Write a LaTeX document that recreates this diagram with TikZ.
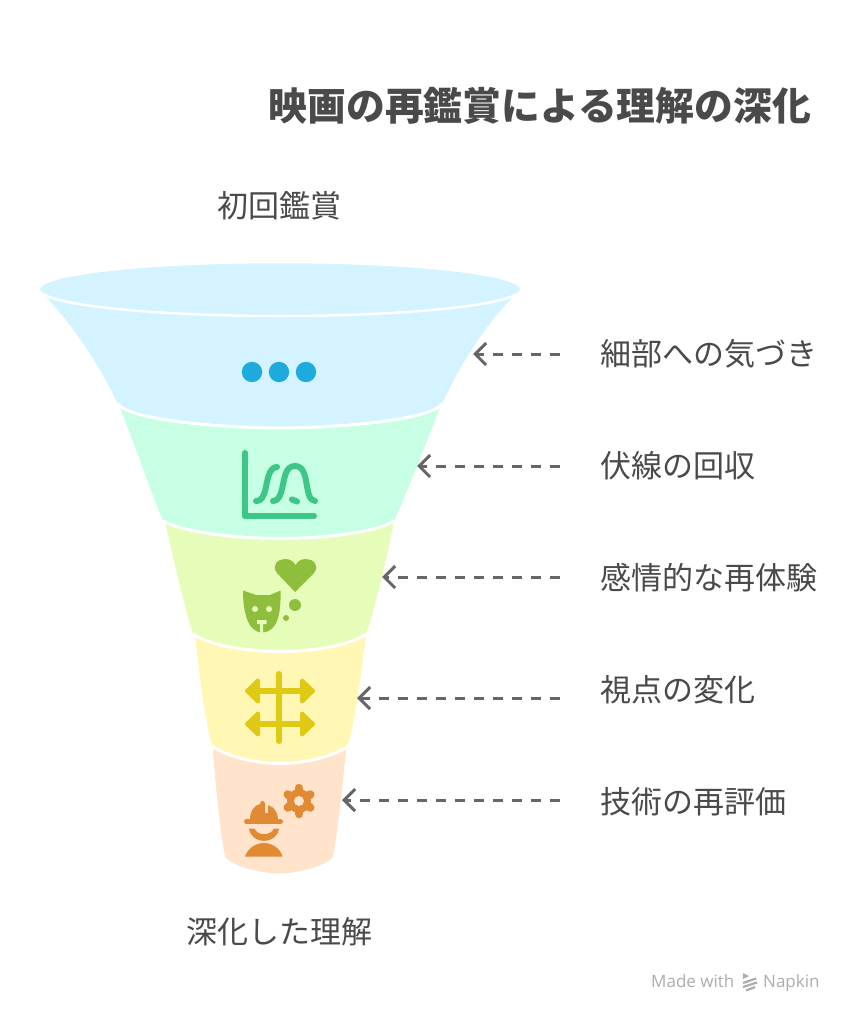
\documentclass[tikz,border=0pt]{standalone}
\usepackage{fontspec}
\setmainfont{Noto Sans CJK JP}
\newfontfamily\latinfont{Open Sans}
\usetikzlibrary{arrows.meta}
\definecolor{cblue}{HTML}{D2F3FF}
\definecolor{cgreen}{HTML}{C6FFE4}
\definecolor{clime}{HTML}{E5FDB9}
\definecolor{cyellow}{HTML}{FFF7B3}
\definecolor{corange}{HTML}{FFE3CB}
\definecolor{iblue}{HTML}{1FAADD}
\definecolor{igreen}{HTML}{3EC688}
\definecolor{ilime}{HTML}{8FBE3C}
\definecolor{iyellow}{HTML}{E0C914}
\definecolor{iorange}{HTML}{E08A33}
\definecolor{txt}{HTML}{4A4A4A}
\tikzset{
  seg/.style={fill=#1,draw=none},
  rim/.style={draw=white,line width=3pt,line cap=round},
  lbl/.style={font=\fontsize{31}{36}\selectfont,text=txt,inner sep=0pt,anchor=west},
  ttl/.style={font=\fontsize{38.8}{44}\selectfont\bfseries,text=txt,inner sep=0pt,anchor=east},
  captext/.style={font=\fontsize{31}{36}\selectfont,text=txt,inner sep=0pt},
  arr/.style={draw=black!60,line width=3pt,dash pattern=on 10pt off 9pt,
    arrows={-{Straight Barb[length=11pt,width=22pt,line width=3pt]}}},
  brand/.style={font=\latinfont\fontsize{17}{20}\selectfont,text=black!32,inner sep=0pt,anchor=base west},
  iconline/.style={draw=#1,line width=6pt,line cap=round,line join=round},
}
\begin{document}
\begin{tikzpicture}[x=1pt,y=-1pt]
\useasboundingbox (0,0) rectangle (857,1024);
\fill[white] (0,0) rectangle (857,1024);

% funnel, bottom to top
\fill[seg=corange] (213,750) .. controls (216,790) and (220,830) .. (225,857)
  .. controls (235,868) and (265,873.5) .. (279,873.5) .. controls (293,873.5) and (323,868) .. (333,857)
  .. controls (338,830) and (342,790) .. (346,750) -- cycle;
\fill[seg=cyellow] (195,636) .. controls (200,680) and (205,720) .. (212,745)
  .. controls (225,755) and (255,762) .. (280,762) .. controls (305,762) and (335,755) .. (348,745)
  .. controls (355,720) and (360,680) .. (366,636) -- cycle;
\draw[rim] (212,746) .. controls (225,756) and (255,763.5) .. (280,763.5) .. controls (305,763.5) and (335,756) .. (348,746);
\fill[seg=clime] (165,522) .. controls (175,565) and (185,610) .. (193,634)
  .. controls (210,645) and (250,650) .. (280,650) .. controls (310,650) and (350,645) .. (366,634)
  .. controls (376,605) and (385,565) .. (394,522) -- cycle;
\draw[rim] (193,634) .. controls (210,646) and (250,651.5) .. (280,651.5) .. controls (310,651.5) and (350,646) .. (366,634);
\fill[seg=cgreen] (120,408) .. controls (135,445) and (150,490) .. (163,521)
  .. controls (185,532) and (240,537) .. (280,537) .. controls (320,537) and (375,532) .. (394,521)
  .. controls (408,490) and (425,445) .. (440,408) -- cycle;
\draw[rim] (163,521) .. controls (185,533) and (240,538.5) .. (280,538.5) .. controls (320,538.5) and (375,533) .. (394,521);
\fill[seg=cblue] (45,296) .. controls (70,322) and (97,360) .. (118,404)
  .. controls (130,420) and (230,426.5) .. (280,426.5) .. controls (330,426.5) and (430,420) .. (442,404)
  .. controls (462,360) and (488,322) .. (514,296) -- cycle;
\draw[rim] (118,404) .. controls (130,421) and (230,428) .. (280,428) .. controls (330,428) and (430,421) .. (442,404);
\draw[fill=cblue,draw=white,line width=2.5pt] (280,289) ellipse [x radius=241.5,y radius=27];

% icon: dots
\fill[iblue] (252,372) circle (10.2) (279,372) circle (10.2) (306,372) circle (10.2);

% icon: chart
\draw[iconline=igreen] (245,453) -- (245,516) -- (314,516);
\draw[iconline=igreen] (256,501) .. controls (270,501) and (263,468) .. (277,467);
\draw[iconline=igreen] (273,501) .. controls (287,500) and (279,466) .. (295,466) .. controls (311,466) and (303,500) .. (315,501);
\draw[iconline=igreen] (292,499.5) -- (297,501.5);

% icon: mask and heart
\fill[ilime] (295,592) -- (277,573) .. controls (271,565) and (278,559) .. (285,559)
  .. controls (290,559) and (293,561) .. (295.5,565) .. controls (298,561) and (301,559) .. (306,559)
  .. controls (313,559) and (320,565) .. (314,573) -- cycle;
\fill[ilime] (295,605) circle (6) (286,618) circle (3);
\fill[ilime] (243,590.5) -- (256,595) -- (270,595) -- (280.5,590.5)
  .. controls (281,610) and (279,632) .. (262,632.5) .. controls (247,632) and (243,610) .. (243,590.5) -- cycle;
\fill[clime] (255,609) circle (3) (269,609) circle (3);
\fill[clime] (257,620) rectangle (266.5,624) (260,623) rectangle (263,633);

% icon: crossing double arrows
\draw[iconline=iyellow] (279,674) -- (279,741);
\draw[iconline=iyellow] (250,691) -- (310,691);
\draw[iconline=iyellow] (250,724) -- (310,724);
\filldraw[draw=iyellow,fill=iyellow,line width=4pt,line join=round]
  (247,691) -- (258,680.5) -- (258,701.5) -- cycle
  (313,691) -- (302,680.5) -- (302,701.5) -- cycle
  (247,724) -- (258,713.5) -- (258,734.5) -- cycle
  (313,724) -- (302,713.5) -- (302,734.5) -- cycle;

% icon: gear
\fill[iorange] (299,801) circle (12);
\foreach \a in {0,60,120}
  \draw[iorange,line width=8.5pt,line cap=round] (299,801) ++(90+\a:13) -- ++(90+\a:-26);
\fill[corange] (299,801) circle (5);

% icon: worker
\fill[iorange] (250,820) .. controls (250,810) and (255,805) .. (260,804)
  .. controls (260,800) and (265,800) .. (265,804) -- (265,813) -- (268,813) -- (268,805)
  .. controls (274,807) and (278,812) .. (278,820) -- cycle;
\draw[iorange,line width=5pt,line cap=round] (246.5,821.5) -- (280.5,821.5);
\fill[iorange] (249,828.5) -- (254.5,828.5) .. controls (257,836) and (271,836) .. (274,828.5) -- (279,828.5)
  .. controls (277,845) and (251,845) .. (249,828.5) -- cycle;
\fill[iorange] (245,856.5) .. controls (248,848) and (256,843) .. (264,843)
  .. controls (272,843) and (280,848) .. (282.5,856.5) -- cycle;

% texts
\node[ttl] (title) at (811,106) {映画の再鑑賞による理解の深化};
\node[captext] (top) at (279,206) {初回鑑賞};
\node[captext] (bottom) at (279.5,932) {深化した理解};
\node[lbl] (l1) at (600,354) {細部への気づき};
\node[lbl] (l2) at (600,466) {伏線の回収};
\node[lbl] (l3) at (600,578) {感情的な再体験};
\node[lbl] (l4) at (600,690) {視点の変化};
\node[lbl] (l5) at (600,802) {技術の再評価};

% connectors
\coordinate (s1) at (560,354); \coordinate (e1) at (473,354);
\coordinate (s2) at (560,466); \coordinate (e2) at (417,466);
\coordinate (s3) at (560,577); \coordinate (e3) at (382,577);
\coordinate (s4) at (560,698); \coordinate (e4) at (357,698);
\coordinate (s5) at (560,800); \coordinate (e5) at (342,800);
\foreach \i in {1,...,5} \draw[arr] (s\i) -- (e\i);

% brand
\node[brand] (made) at (651,987) {Made with};
\node[brand] (napkin) at (763,987) {Napkin};
\fill[black!32] (743,973) -- (749,976) -- (743,979) -- cycle;
\draw[black!32,line width=2.2pt] (743,983) -- (756,978.5) (743,987) -- (757,982.5) (746,990.5) -- (755,987);
\end{tikzpicture}
\end{document}
